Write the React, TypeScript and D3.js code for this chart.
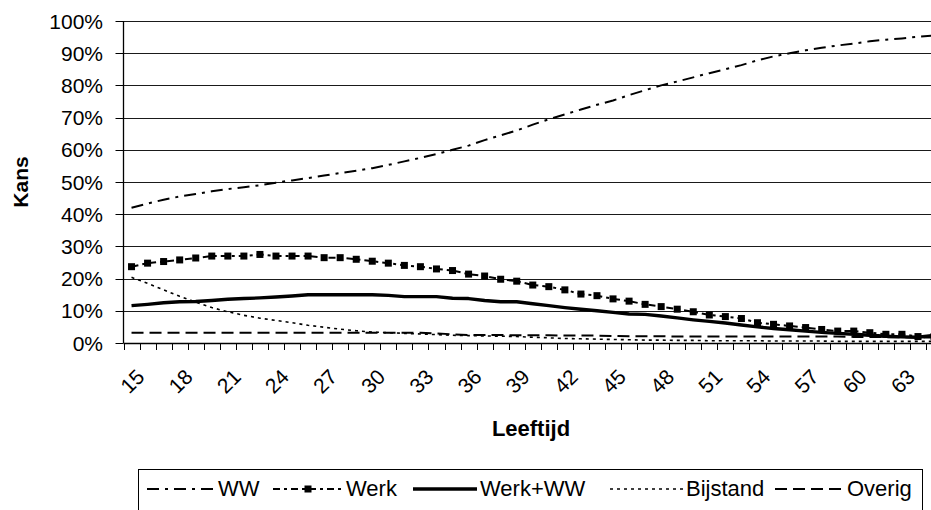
import React from "react";
import * as d3 from "d3";

const ages = [15,16,17,18,19,20,21,22,23,24,25,26,27,28,29,30,31,32,33,34,35,36,37,38,39,40,41,42,43,44,45,46,47,48,49,50,51,52,53,54,55,56,57,58,59,60,61,62,63,64,65];
const tickAges = [15,18,21,24,27,30,33,36,39,42,45,48,51,54,57,60,63];
const yTicks = [0,0.1,0.2,0.3,0.4,0.5,0.6,0.7,0.8,0.9,1];

const ww = [42,43.3,44.5,45.5,46.3,47.1,47.8,48.4,49,49.8,50.5,51.2,52,52.8,53.5,54.3,55.3,56.4,57.5,58.7,60,61.3,63,64.5,66,67.8,69.5,71,72.5,74,75.3,77,78.5,80,81.2,82.5,83.8,85,86.3,87.8,89,90,90.9,91.7,92.4,93,93.7,94.2,94.6,95.1,95.5];
const werk = [23.7,24.8,25.3,25.8,26.4,27,27,27,27.5,27,27,27,26.5,26.5,26,25.4,24.8,24.1,23.7,23,22.5,21.4,20.8,19.8,19.2,18,17.5,16.5,15.2,14.7,13.7,13,12,11.3,10.5,9.7,8.7,8.2,7.6,6.3,5.8,5.3,4.8,4.2,3.7,3.7,3.2,2.7,2.7,2,2];
const werkWw = [11.6,12,12.5,12.8,12.9,13.2,13.6,13.8,14,14.3,14.6,15,15,15,15,15,14.8,14.4,14.4,14.4,13.9,13.8,13.2,12.8,12.8,12.2,11.6,11,10.5,10,9.5,9,8.9,8.4,7.8,7.2,6.7,6.2,5.6,5,4.5,4.1,3.7,3.3,3,2.7,2.4,2.1,1.9,1.8,2.4];
const bijstand = [20.4,18.5,16.5,14.5,12.7,11,9.7,8.6,7.7,7,6.3,5.5,4.9,4.3,3.8,3.4,3.2,3,2.8,2.6,2.4,2.3,2.2,2.1,2,1.8,1.6,1.4,1.3,1.2,1.1,1,0.9,0.9,0.8,0.8,0.7,0.7,0.7,0.7,0.6,0.6,0.6,0.6,0.5,0.5,0.5,0.5,0.5,0.5,0.5];
const overig = [3.2,3.2,3.2,3.2,3.2,3.2,3.2,3.2,3.2,3.2,3.2,3.2,3.2,3.2,3.2,3.2,3.2,3.2,3.2,3,2.7,2.5,2.5,2.5,2.4,2.4,2.4,2.3,2.3,2.3,2.2,2.1,2.1,2.1,2,2,2,2,2,2,2,2,2,2,2,1.9,1.9,1.8,1.8,1.7,1.7];

const seriesNames = ["WW", "Werk", "Werk+WW", "Bijstand", "Overig"];

const W = 931, H = 510;
const left = 123.5, top = 21, bottom = 343, band = 16.05;
const FONT = "'Liberation Sans', Arial, sans-serif";

export default function App() {
  const x = d3.scaleBand<number>().domain(ages).range([left, left + band * ages.length]).paddingInner(0).paddingOuter(0);
  const y = d3.scaleLinear().domain([0, 1]).range([bottom, top]);
  const cx = (a: number) => (x(a) as number) + x.bandwidth() / 2;
  const line = d3.line<number>().x((_, i) => cx(ages[i])).y((v) => y(v / 100));

  const styles = [
    { data: ww, width: 2, dash: "12,6,3,6", marker: false },
    { data: werk, width: 2, dash: "7,4,3,4", marker: true },
    { data: werkWw, width: 3.4, dash: "", marker: false },
    { data: bijstand, width: 1.6, dash: "3,4", marker: false },
    { data: overig, width: 2, dash: "12,6", marker: false },
  ];

  const legendItems = [
    { x1: 147, x2: 213, tx: 218 },
    { x1: 273, x2: 343, tx: 346 },
    { x1: 413, x2: 477, tx: 480 },
    { x1: 610, x2: 683, tx: 686 },
    { x1: 775, x2: 845, tx: 847 },
  ];

  const plotRight = left + band * ages.length;

  return (
    <svg width={W} height={H} style={{ position: "absolute", left: 0, top: 0, background: "#fff" }} fontFamily={FONT}>
      <rect x={0} y={0} width={W} height={H} fill="#fff" />
      {yTicks.filter((t) => t > 0).map((t) => (
        <line key={t} x1={left} x2={plotRight} y1={Math.round(y(t)) + 0.5} y2={Math.round(y(t)) + 0.5} stroke="#1a1a1a" strokeWidth={1} />
      ))}
      <line x1={left} x2={left} y1={top} y2={bottom} stroke="#000" strokeWidth={1.3} />
      {yTicks.map((t) => (
        <g key={"yt" + t}>
          <line x1={left - 8} x2={left} y1={Math.round(y(t)) + 0.5} y2={Math.round(y(t)) + 0.5} stroke="#000" />
          <text x={103} y={y(t)} dy="0.36em" textAnchor="end" fontSize={21} fill="#000">{d3.format(".0%")(t)}</text>
        </g>
      ))}
      <line x1={left} x2={plotRight} y1={bottom + 0.5} y2={bottom + 0.5} stroke="#000" strokeWidth={1.5} />
      {ages.map((a) => (
        <line key={"xt" + a} x1={Math.round(x(a) as number) + 0.5} x2={Math.round(x(a) as number) + 0.5} y1={bottom} y2={bottom + 7} stroke="#000" />
      ))}
      {tickAges.map((a) => (
        <text key={"xl" + a} transform={`translate(${cx(a) + 9},${bottom + 30}) rotate(-45)`} textAnchor="end" dy="0.36em" fontSize={21} fill="#000">{a}</text>
      ))}
      {styles.map((s, i) => (
        <path key={"s" + i} d={line(s.data) || ""} fill="none" stroke="#000" strokeWidth={s.width} strokeDasharray={s.dash || undefined} strokeLinejoin="round" />
      ))}
      {werk.map((v, i) => (
        <rect key={"m" + i} x={cx(ages[i]) - 3.5} y={y(v / 100) - 3.5} width={7} height={7} fill="#000" />
      ))}
      <text transform="translate(28,182) rotate(-90)" textAnchor="middle" fontSize={21} fontWeight="bold" fill="#000">Kans</text>
      <text x={531} y={436} textAnchor="middle" fontSize={22} fontWeight="bold" fill="#000">Leeftijd</text>
      <rect x={138.5} y={469.5} width={784} height={60} fill="#fff" stroke="#000" strokeWidth={1} />
      {legendItems.map((it, i) => (
        <g key={"lg" + i}>
          <line x1={it.x1} x2={it.x2} y1={489} y2={489} stroke="#000" strokeWidth={styles[i].width} strokeDasharray={styles[i].dash || undefined} />
          {styles[i].marker && <rect x={(it.x1 + it.x2) / 2 - 3.5} y={485.5} width={7} height={7} fill="#000" />}
          <text x={it.tx} y={496} fontSize={22} fill="#000">{seriesNames[i]}</text>
        </g>
      ))}
    </svg>
  );
}
